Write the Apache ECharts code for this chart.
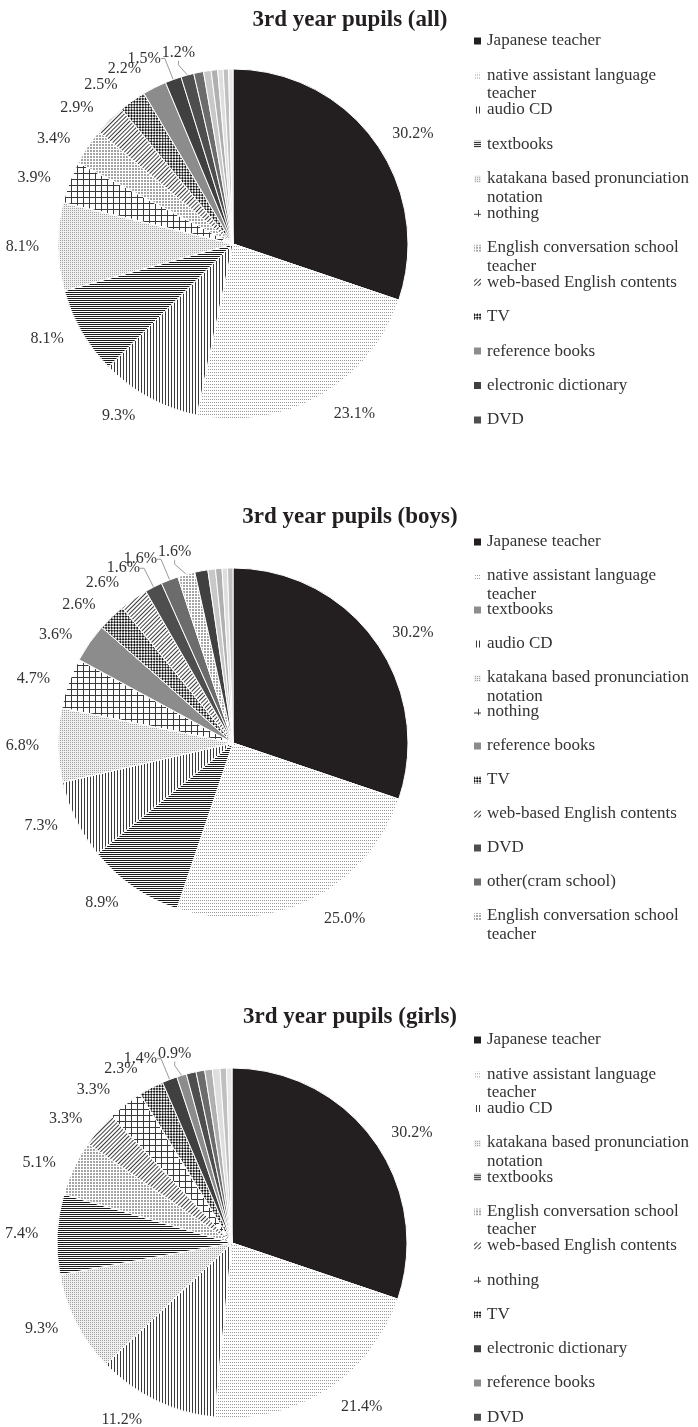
<!DOCTYPE html>
<html><head><meta charset="utf-8">
<script src="https://cdn.jsdelivr.net/npm/echarts@6/dist/echarts.min.js"></script>
<style>html,body{margin:0;padding:0;background:#fff}#chart{width:698px;height:1427px}</style>
</head><body><div id="chart"></div>
<script>
// ---------- data ----------
const titles = ['3rd year pupils (all)', '3rd year pupils (boys)', '3rd year pupils (girls)'];

const allCategories = ['Japanese teacher', 'native assistant language teacher', 'audio CD', 'textbooks',
  'katakana based pronunciation notation', 'nothing', 'English conversation school teacher',
  'web-based English contents', 'TV', 'reference books', 'electronic dictionary', 'DVD'];
const allValues = [30.2, 23.1, 9.3, 8.1, 8.1, 3.9, 3.4, 2.9, 2.5, 2.2, 1.5, 1.2];
const allExtraCategories = ['other(cram school)', 'other source 1', 'other source 2', 'other source 3', 'other source 4', 'other source 5'];
const allExtraValues = [0.9, 0.7, 0.6, 0.5, 0.5, 0.4];

const boysCategories = ['Japanese teacher', 'native assistant language teacher', 'textbooks', 'audio CD',
  'katakana based pronunciation notation', 'nothing', 'reference books', 'TV',
  'web-based English contents', 'DVD', 'other(cram school)', 'English conversation school teacher'];
const boysValues = [30.2, 25.0, 8.9, 7.3, 6.8, 4.7, 3.6, 2.6, 2.6, 1.6, 1.6, 1.6];
const boysExtraCategories = ['electronic dictionary', 'other source 1', 'other source 2', 'other source 3', 'other source 4'];
const boysExtraValues = [1.2, 0.7, 0.6, 0.5, 0.5];

const girlsCategories = ['Japanese teacher', 'native assistant language teacher', 'audio CD',
  'katakana based pronunciation notation', 'textbooks', 'English conversation school teacher',
  'web-based English contents', 'nothing', 'TV', 'electronic dictionary', 'reference books', 'DVD'];
const girlsValues = [30.2, 21.4, 11.2, 9.3, 7.4, 5.1, 3.3, 3.3, 2.3, 1.4, 0.9];
const girlsExtraCategories = ['DVD', 'other(cram school)', 'other source 1', 'other source 2', 'other source 3', 'other source 4'];
const girlsExtraValues = [0.9, 0.8, 0.7, 0.7, 0.6, 0.5];

// ---------- layout & styles ----------
const FONT = '"Liberation Serif", "Times New Roman", serif';
const PIE_CENTERS = [[233, 244], [233, 743], [232, 1243]];
const PIE_RADIUS = 175;
const LINE_LEN = 10;
const styleMap = {
  'Japanese teacher': { color: '#231f20' },
  'native assistant language teacher': { color: '#ffffff', decal: { symbol: 'rect', symbolSize: 1, color: '#9a9a9a', dashArrayX: [1, 1], dashArrayY: [1, 2] } },
  'audio CD': { color: '#ffffff', decal: { symbol: 'rect', symbolSize: 1, color: '#3a3a3a', dashArrayX: [1, 2], dashArrayY: [4, 0] } },
  'textbooks': { color: '#ffffff', decal: { symbol: 'rect', symbolSize: 1, color: '#1a1a1a', dashArrayX: [4, 0], dashArrayY: [1, 1] } },
  'katakana based pronunciation notation': { color: '#f0f0f0', decal: { symbol: 'rect', symbolSize: 1, color: '#a0a0a0', dashArrayX: [1, 1], dashArrayY: [1, 1] } },
  'nothing': { color: '#3a3a3a', decal: { symbol: 'rect', symbolSize: 1, color: '#ffffff', dashArrayX: [5, 1], dashArrayY: [5, 1] } },
  'English conversation school teacher': { color: '#ffffff', decal: { symbol: 'diamond', symbolSize: 1, color: '#4a4a4a', dashArrayX: [2, 1], dashArrayY: [2, 1] } },
  'web-based English contents': { color: '#ffffff', decal: { symbol: 'rect', symbolSize: 1, color: '#3a3a3a', dashArrayX: [6, 0], dashArrayY: [1, 2], rotation: -Math.PI / 4 } },
  'TV': { color: '#ffffff', decal: { symbol: 'rect', symbolSize: 1, color: '#151515', dashArrayX: [[2, 2], [0, 2, 2, 0]], dashArrayY: [2, 0], rotation: Math.PI / 4 } },
  'reference books': { color: '#8c8c8c' },
  'electronic dictionary': { color: '#404040' },
  'DVD': { color: '#4e4e4e' },
  'other(cram school)': { color: '#6c6c6c' }
};
const extraGrays = ['#9a9a9a', '#c8c8c8', '#b0b0b0', '#dedede', '#c0c0c0', '#e8e8e8'];
const WRAP_RE = /^(native assistant language|katakana based pronunciation|English conversation school) (.*)$/;

function styleFor(name, i) {
  return styleMap[name] || { color: extraGrays[i % extraGrays.length] };
}

// Excel-like label placement: labels near the top/bottom sit a bit further out,
// and a label colliding with an earlier one of the same pie moves to its right.
const placedLabels = {};
function pieLabelLayout(params) {
  const s = params.seriesIndex, r = params.labelRect;
  if (!placedLabels[s] || params.dataIndex === 0) placedLabels[s] = [];
  const list = placedLabels[s];
  if (!params.text || !r || r.width === 0) return {};
  const pieCy = PIE_CENTERS[s][1];
  let cy = r.y + r.height / 2;
  const cosT = Math.max(-1, Math.min(1, (pieCy - cy) / (PIE_RADIUS + LINE_LEN)));
  cy -= 14 * cosT * cosT * cosT;
  let x = r.x;
  for (const p of list) {
    if (Math.abs(p.cy - cy) < 8.5 && x < p.x + p.width && x + r.width > p.x) x = p.x + p.width + 1;
  }
  list.push({ x: x, cy: cy, width: r.width });
  return { x: x, y: cy, align: 'left', verticalAlign: 'middle' };
}

function makeSeries(idx, cats, vals, extraCats, extraVals) {
  const labeled = vals.map((v, i) => ({
    name: cats[i], value: v, itemStyle: styleFor(cats[i], i),
    label: { show: true }, labelLine: { show: v < 2 }
  }));
  const extra = extraVals.map((v, i) => ({
    name: extraCats[i], value: v, itemStyle: styleFor(extraCats[i], i),
    label: { show: false }, labelLine: { show: false }
  }));
  return {
    type: 'pie', center: PIE_CENTERS[idx], radius: PIE_RADIUS, startAngle: 90, clockwise: true,
    avoidLabelOverlap: false, animation: false, silent: true,
    itemStyle: { borderColor: '#ffffff', borderWidth: 1 },
    label: { position: 'outside', overflow: 'none', formatter: p => p.value.toFixed(1) + '%', fontFamily: FONT, fontSize: 16, color: '#333' },
    labelLine: { length: LINE_LEN, length2: 4, lineStyle: { color: '#9a9a9a', width: 1 } },
    labelLayout: pieLabelLayout,
    emphasis: { disabled: true },
    data: labeled.concat(extra)
  };
}

// Excel legend: fixed row pitch; a wrapped name's second line hangs into the gap below.
const legendText = { fontFamily: FONT, fontSize: 17, color: '#333' };
function makeLegends(firstTop, cats, step) {
  return cats.map((n, i) => ({
    orient: 'vertical', left: 472, top: firstTop + i * step, padding: 0,
    itemWidth: 9, itemHeight: 9, icon: 'rect', selectedMode: false,
    data: [n],
    formatter: nm => WRAP_RE.test(nm) ? nm.replace(WRAP_RE, '{a|$1}\n{b|$2}') : nm,
    textStyle: Object.assign({ lineHeight: 20, rich: {
      a: Object.assign({ lineHeight: 20 }, legendText),
      b: Object.assign({ lineHeight: 1, verticalAlign: 'top' }, legendText)
    } }, legendText)
  }));
}

const chart = echarts.init(document.getElementById('chart'), null, { renderer: 'canvas' });
chart.setOption({
  backgroundColor: '#ffffff',
  animation: false,
  title: titles.map((t, i) => ({
    text: t, left: 350, top: [9, 506, 1006][i], textAlign: 'center', padding: 0,
    textStyle: { fontFamily: FONT, fontSize: 23, fontWeight: 'bold', color: '#231f20' }
  })),
  legend: [].concat(
    makeLegends(31, allCategories, 34.45),
    makeLegends(532, boysCategories, 34.0),
    makeLegends(1030, girlsCategories, 34.3)
  ),
  series: [
    makeSeries(0, allCategories, allValues, allExtraCategories, allExtraValues),
    makeSeries(1, boysCategories, boysValues, boysExtraCategories, boysExtraValues),
    makeSeries(2, girlsCategories.slice(0, girlsValues.length), girlsValues, girlsExtraCategories, girlsExtraValues)
  ]
});
</script></body></html>
